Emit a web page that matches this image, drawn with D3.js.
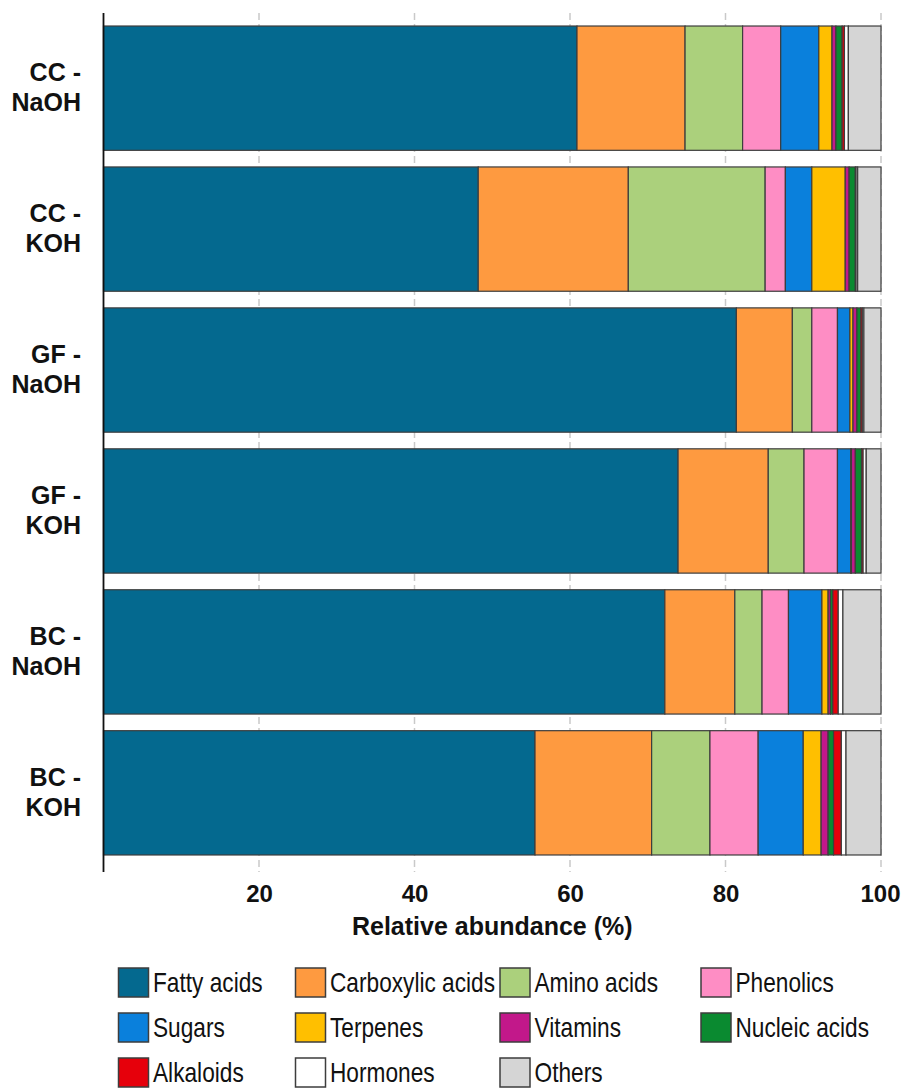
<!DOCTYPE html>
<html>
<head>
<meta charset="utf-8">
<script src="https://cdn.jsdelivr.net/npm/d3@7"></script>
<style>
  html, body { margin: 0; padding: 0; background: #fff; }
  svg { display: block; font-family: "Liberation Sans", Arial, sans-serif; }
</style>
</head>
<body>
<svg id="chart" width="901" height="1088"></svg>
<script>
// Samples (extraction source - alkali)
const categories = ["CC - NaOH", "CC - KOH", "GF - NaOH", "GF - KOH", "BC - NaOH", "BC - KOH"];

// Relative abundance (%) of each compound class per sample
const fattyAcids      = [60.9, 48.2, 81.4, 73.9, 72.2, 55.5];
const carboxylicAcids = [13.9, 19.3,  7.2, 11.6,  9.0, 15.0];
const aminoAcids      = [ 7.4, 17.6,  2.5,  4.6,  3.5,  7.5];
const phenolics       = [ 4.9,  2.6,  3.3,  4.3,  3.4,  6.2];
const sugars          = [ 4.9,  3.4,  1.6,  1.7,  4.3,  5.8];
const terpenes        = [ 1.7,  4.3,  0.4,  0.1,  0.8,  2.3];
const vitamins        = [ 0.5,  0.5,  0.5,  0.5,  0.3,  0.9];
const nucleicAcids    = [ 0.8,  0.8,  0.5,  0.8,  0.3,  0.7];
const alkaloids       = [ 0.3,  0.1,  0.2,  0.2,  0.7,  1.0];
const hormones        = [ 0.5,  0.2,  0.2,  0.4,  0.6,  0.6];
const others          = [ 4.2,  3.0,  2.2,  1.9,  4.9,  4.5];

const seriesNames = ["Fatty acids", "Carboxylic acids", "Amino acids", "Phenolics",
                     "Sugars", "Terpenes", "Vitamins", "Nucleic acids",
                     "Alkaloids", "Hormones", "Others"];
const seriesValues = [fattyAcids, carboxylicAcids, aminoAcids, phenolics,
                      sugars, terpenes, vitamins, nucleicAcids,
                      alkaloids, hormones, others];
const seriesColors = ["#04698f", "#fe9a40", "#abd07c", "#fe8dc4",
                      "#0a80dc", "#ffbf00", "#c2188a", "#0a8a30",
                      "#e6000b", "#ffffff", "#d5d5d5"];

const xTicks = [20, 40, 60, 80, 100];

// Rows for d3.stack
const table = categories.map((c, i) => {
  const row = { category: c };
  seriesNames.forEach((s, k) => { row[s] = seriesValues[k][i]; });
  return row;
});

const svg = d3.select("#chart");

const plotTop = 13, plotBottom = 872;
const x = d3.scaleLinear().domain([0, 100]).range([103.5, 881]);
const y = d3.scaleBand().domain(categories).range([17.7, 863.3]).paddingInner(0.118).paddingOuter(0.059);
const color = d3.scaleOrdinal().domain(seriesNames).range(seriesColors);

// Dashed vertical gridlines behind the bars
svg.append("g")
  .selectAll("line")
  .data(xTicks)
  .join("line")
  .attr("x1", d => x(d)).attr("x2", d => x(d))
  .attr("y1", plotTop).attr("y2", plotBottom)
  .attr("stroke", "#c9c9c9")
  .attr("stroke-width", 1.5)
  .attr("stroke-dasharray", "7,4");

// Stacked bars
const stacked = d3.stack().keys(seriesNames)(table);
svg.append("g")
  .selectAll("g")
  .data(stacked)
  .join("g")
  .attr("fill", d => color(d.key))
  .selectAll("rect")
  .data(d => d)
  .join("rect")
  .attr("x", d => x(d[0]))
  .attr("y", d => y(d.data.category))
  .attr("width", d => x(d[1]) - x(d[0]))
  .attr("height", y.bandwidth())
  .attr("stroke", "#3d3d3d")
  .attr("stroke-width", 1.2);

// Bottom axis: tick labels only (tick marks come from the gridlines)
const xAxis = svg.append("g")
  .attr("transform", `translate(0,${plotBottom})`)
  .call(d3.axisBottom(x).tickValues(xTicks).tickSize(0).tickPadding(30));
xAxis.select(".domain").remove();
xAxis.selectAll("text")
  .attr("font-family", "\"Liberation Sans\", Arial, sans-serif")
  .attr("font-size", 24)
  .attr("font-weight", "bold")
  .attr("fill", "#111")
  .attr("dy", 0);
// keep the last label inside the canvas
xAxis.selectAll(".tick")
  .filter(d => d === 100)
  .select("text")
  .attr("text-anchor", "end")
  .attr("x", 900 - x(100));

// Left axis line
svg.append("line")
  .attr("x1", x(0)).attr("x2", x(0))
  .attr("y1", plotTop).attr("y2", plotBottom)
  .attr("stroke", "#111")
  .attr("stroke-width", 1.8);

// Category labels, two lines each
const catLabels = svg.append("g")
  .selectAll("text")
  .data(categories)
  .join("text")
  .attr("text-anchor", "end")
  .attr("font-size", 25)
  .attr("font-weight", "bold")
  .attr("fill", "#111")
  .attr("x", 81)
  .attr("y", d => y(d) + y.bandwidth() / 2);
catLabels.each(function(d) {
  const parts = d.split(" - ");
  const t = d3.select(this);
  t.append("tspan").attr("x", 81).attr("dy", -7).text(parts[0] + " -");
  t.append("tspan").attr("x", 81).attr("dy", 29.7).text(parts[1]);
});

// Axis title
svg.append("text")
  .attr("x", (x(0) + x(100)) / 2)
  .attr("y", 935)
  .attr("text-anchor", "middle")
  .attr("font-size", 25)
  .attr("font-weight", "bold")
  .attr("fill", "#111")
  .text("Relative abundance (%)");

// Legend: 4 columns, 3 rows
const legendCols = [118.5, 295.5, 500, 701];
const legendRow0 = 968, legendRowStep = 45;
const legend = svg.append("g")
  .selectAll("g")
  .data(seriesNames)
  .join("g")
  .attr("transform", (d, i) => `translate(${legendCols[i % 4]},${legendRow0 + Math.floor(i / 4) * legendRowStep})`);
legend.append("rect")
  .attr("width", 30).attr("height", 29)
  .attr("fill", d => color(d))
  .attr("stroke", "#3d3d3d")
  .attr("stroke-width", 1.5);
legend.append("text")
  .attr("transform", "translate(34.5,24) scale(0.84,1)")
  .attr("font-size", 27)
  .attr("fill", "#111")
  .text(d => d);
</script>
</body>
</html>
